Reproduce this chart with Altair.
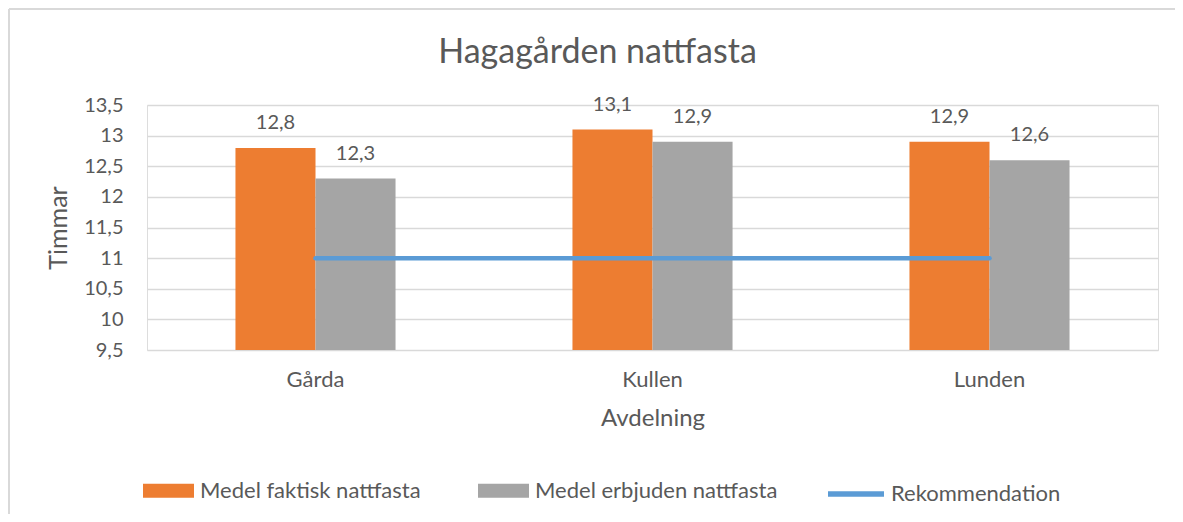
import altair as alt
import pandas as pd

categories = ["Gårda", "Kullen", "Lunden"]
series_names = ["Medel faktisk nattfasta", "Medel erbjuden nattfasta"]
faktisk = [12.8, 13.1, 12.9]
erbjuden = [12.3, 12.9, 12.6]
rekommendation = [11, 11, 11]
line_name = "Rekommendation"
y_ticks = [9.5, 10, 10.5, 11, 11.5, 12, 12.5, 13, 13.5]

FONT = "Lato"
TXT = "#595959"
GRID = "#D9D9D9"

rows = []
for c, a, b in zip(categories, faktisk, erbjuden):
    rows.append({"Avdelning": c, "serie": series_names[0], "v": a})
    rows.append({"Avdelning": c, "serie": series_names[1], "v": b})
bars_df = pd.DataFrame(rows)
line_df = pd.DataFrame({"Avdelning": categories, "v": rekommendation, "serie": [line_name] * 3})

W, H = 1011, 245

x_scale = alt.Scale(paddingInner=0.525, paddingOuter=0.2625)
x_axis = alt.Axis(title="Avdelning", labelAngle=0, labelFontSize=22, labelColor=TXT,
                  labelFont=FONT, labelPadding=19, ticks=False, domain=False, grid=False,
                  titleFont=FONT, titleFontSize=24, titleColor=TXT, titleFontWeight="normal",
                  titlePadding=16)
y_scale = alt.Scale(domain=[9.5, 13.5], zero=False, nice=False)
y_axis = alt.Axis(title="Timmar", values=y_ticks, grid=True, gridColor=GRID, gridWidth=1.3,
                  domain=False, ticks=False, labelFontSize=20, labelColor=TXT, labelFont=FONT,
                  labelPadding=24, labelOverlap=False, labelBound=False,
                  labelExpr="replace(format(datum.value, '.1~f'), '.', ',')",
                  titleFont=FONT, titleFontSize=25, titleColor=TXT, titleFontWeight="normal",
                  titleX=-76, titleY=H / 2)

X = alt.X("Avdelning:N", sort=categories, scale=x_scale, axis=x_axis)
Y = alt.Y("v:Q", scale=y_scale, axis=y_axis)

bars = alt.Chart(bars_df).mark_bar().encode(
    x=X,
    xOffset=alt.XOffset("serie:N", sort=series_names, scale=alt.Scale(paddingInner=0, paddingOuter=0)),
    y=Y,
    y2=alt.datum(9.5),
    color=alt.Color("serie:N", sort=series_names,
                    scale=alt.Scale(domain=series_names, range=["#ED7D31", "#A5A5A5"]),
                    legend=alt.Legend(title=None, orient="none", direction="horizontal",
                                      legendX=-4, legendY=360, columns=2, columnPadding=57,
                                      symbolType="M-1,-0.2745H1V0.2745H-1Z", symbolSize=2601,
                                      symbolStrokeWidth=0, labelFont=FONT, labelFontSize=22,
                                      labelColor=TXT, labelOffset=6, labelLimit=0)),
)

labels = alt.Chart(bars_df).transform_calculate(
    lbl="replace(format(datum.v, '.1f'), '.', ',')"
).mark_text(baseline="bottom", dy=-15, font=FONT, fontSize=20, color=TXT).encode(
    x=X,
    xOffset=alt.XOffset("serie:N", sort=series_names, scale=alt.Scale(paddingInner=0, paddingOuter=0)),
    y=Y,
    text="lbl:N",
)

line = alt.Chart(line_df).mark_line(strokeWidth=4.5, strokeCap="round").encode(
    x=X,
    y=Y,
    stroke=alt.Stroke("serie:N", scale=alt.Scale(domain=[line_name], range=["#5B9BD5"]),
                      legend=alt.Legend(title=None, orient="none", direction="horizontal",
                                        legendX=678, legendY=358, symbolType="stroke",
                                        symbolSize=3136, symbolStrokeWidth=5.5,
                                        labelFont=FONT, labelFontSize=22, labelColor=TXT,
                                        labelOffset=4, labelLimit=0)),
)

frame_src = pd.DataFrame({"k": [0]})
frame_top = alt.Chart(frame_src).mark_rule(stroke=GRID, strokeWidth=2).encode(
    x=alt.value(-138), x2=alt.value(W + 40), y=alt.value(-96),
)
frame_left = alt.Chart(frame_src).mark_rule(stroke=GRID, strokeWidth=2).encode(
    x=alt.value(-138), y=alt.value(-96), y2=alt.value(H + 200),
)

chart = alt.layer(frame_top, frame_left, bars, labels, line).properties(
    width=W, height=H,
    title=alt.TitleParams("Hagagården nattfasta", font=FONT, fontSize=34, color=TXT,
                          fontWeight="normal", anchor="middle", frame="group", dx=-55, offset=-62),
    autosize=alt.AutoSizeParams(type="none"),
    padding={"left": 139, "top": 97, "right": 17, "bottom": 164},
).configure_view(stroke=None).configure(background="white")

chart.save("out.html", embed_options={"renderer": "svg", "actions": False})
